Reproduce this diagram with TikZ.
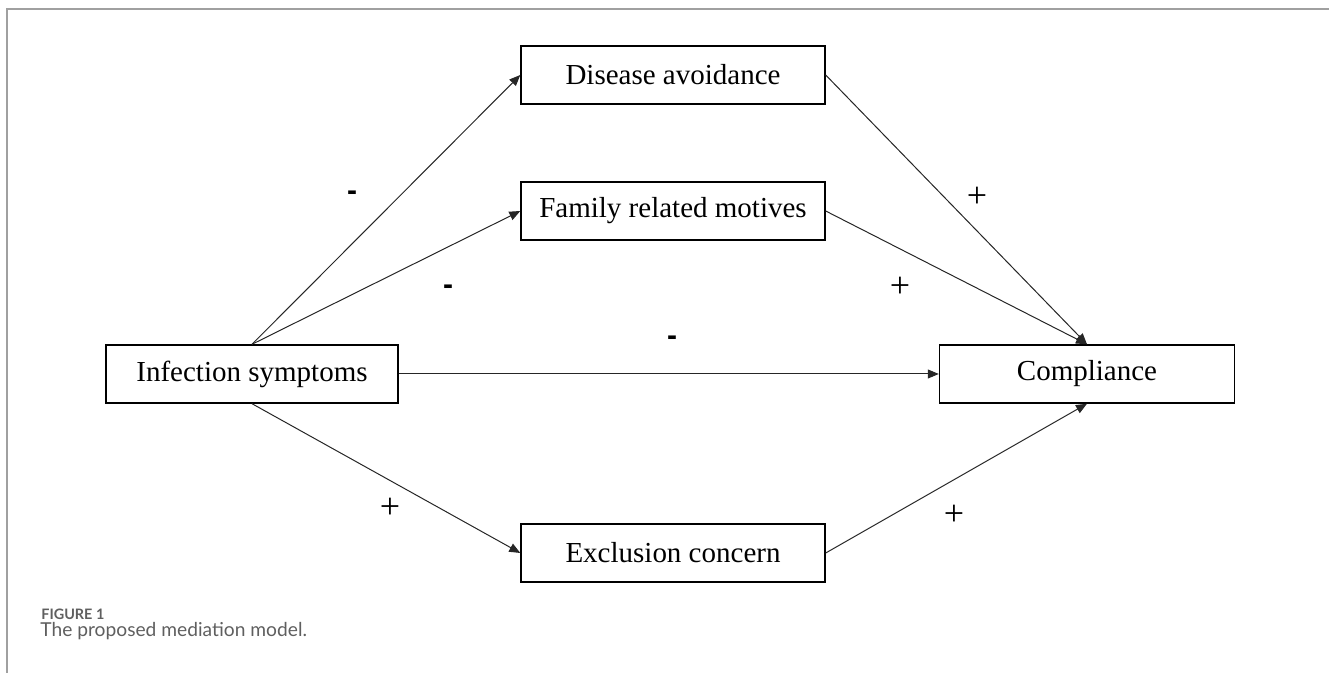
\documentclass[tikz,border=0pt]{standalone}
\usepackage{fontspec}
\setmainfont{Liberation Serif}
\newfontfamily\capfont{Lato}
\newfontfamily\dashfont{Liberation Sans}
\usetikzlibrary{arrows.meta}
\definecolor{framegray}{HTML}{A0A0A0}
\definecolor{capgray}{HTML}{5F5F5F}
\tikzset{
  varbox/.style={draw=black, line width=0.7pt, inner sep=0pt, minimum height=29pt, font=\fontsize{14.5pt}{16pt}\selectfont},
  midbox/.style={varbox, minimum width=152pt},
  path/.style={draw=black!85, line width=0.5pt, -{Triangle[length=5.5pt,width=4.5pt]}},
  minuslbl/.style={inner sep=0pt, font=\dashfont\bfseries\fontsize{15pt}{17pt}\selectfont},
  pluslbl/.style={inner sep=0pt, font=\fontsize{18pt}{20pt}\selectfont},
}
\begin{document}
\begin{tikzpicture}[x=0.5pt,y=-0.5pt]
\useasboundingbox (0,0) rectangle (1329,673);
% frame
\draw[framegray, line width=0.75pt] (7,673) -- (7,9) -- (1329,9);
% boxes
\node[varbox, minimum width=146pt] (inf) at (252,374) {Infection symptoms};
\node[midbox] (dis) at (673,75) {Disease avoidance};
\node[midbox] (fam) at (673,211) {Family related motives};
\node[midbox] (exc) at (673,553) {Exclusion concern};
\node[varbox, minimum width=147.5pt] (comp) at (1087,374) {Compliance};
% connectors
\draw[path] (inf.north) -- (dis.west);
\draw[path] (inf.north) -- (fam.west);
\draw[path] (inf.east) -- (comp.west);
\draw[path] (inf.south) -- (exc.west);
\draw[path] (dis.east) -- (comp.north);
\draw[path] (fam.east) -- (comp.north);
\draw[path] (exc.east) -- (comp.south);
% signs
\node[minuslbl] (m1) at (352,196) {-};
\node[minuslbl] (m2) at (448,290) {-};
\node[minuslbl] (m3) at (672,341) {-};
\node[pluslbl] (p1) at (977,197) {+};
\node[pluslbl] (p2) at (900,287) {+};
\node[pluslbl] (p3) at (390,508) {+};
\node[pluslbl] (p4) at (954,515) {+};
% caption
\node[anchor=base west, inner sep=0pt, text=capgray, font=\capfont\bfseries\fontsize{7.2pt}{8pt}\selectfont] (figlbl) at (41,620) {FIGURE 1};
\node[anchor=base west, inner sep=0pt, text=capgray, font=\capfont\fontsize{9.6pt}{11pt}\selectfont] (figcap) at (40,637) {The proposed mediation model.};
\end{tikzpicture}
\end{document}
